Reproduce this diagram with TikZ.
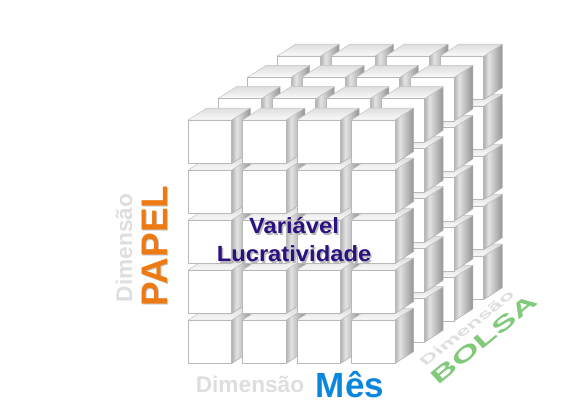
\documentclass[tikz,border=0pt]{standalone}
\usepackage{fontspec}
\setmainfont{Liberation Sans}
\definecolor{edgegrey}{gray}{0.72}
\definecolor{dimgrey}{gray}{0.87}
\definecolor{shadowgrey}{gray}{0.72}
\definecolor{papelorange}{HTML}{EE7A14}
\definecolor{mesblue}{HTML}{0A86DC}
\definecolor{bolsagreen}{HTML}{82C97C}
\definecolor{varindigo}{HTML}{2C1180}
\pgfdeclarehorizontalshading{sideshade}{100bp}{
  color(0bp)=(black!30); color(25bp)=(black!30); color(38bp)=(black!11);
  color(75bp)=(black!42); color(100bp)=(black!42)}
\tikzset{
  frontface/.style={draw=edgegrey,line width=.6pt,fill=white,line join=round},
  sideface/.style={draw=black!32,line width=.5pt,line join=round,shading=sideshade},
  topface/.style={draw=black!24,line width=.5pt,line join=round,bottom color=black!2,top color=black!13},
  dimtext/.style={text=dimgrey,font=\bfseries\fontsize{22.7}{24}\selectfont,inner sep=0pt},
  varshadow/.style={text=shadowgrey,font=\bfseries\fontsize{22}{28}\selectfont,inner sep=0pt,align=center},
  vartext/.style={text=varindigo,font=\bfseries\fontsize{22}{28}\selectfont,inner sep=0pt,align=center},
}
\newcommand{\cubeat}[2]{%
  \path[sideface] (#1+43.5,#2) -- ++(18.7,-12) -- ++(0,43.5) -- ++(-18.7,12) -- cycle;
  \path[topface] (#1,#2) -- ++(18.7,-12) -- ++(43.5,0) -- ++(-18.7,12) -- cycle;
  \path[frontface] (#1,#2) rectangle ++(43.5,43.5);
}
\begin{document}
\begin{tikzpicture}[x=1pt,y=-1pt]
\useasboundingbox (0,0) rectangle (582,407);
\foreach \layer in {3,2,1,0}{
  \foreach \rowidx in {4,3,2,1,0}{
    \foreach \col in {0,1,2,3}{
      \pgfmathsetmacro{\cx}{188.2+29.6*\layer+54.4*\col}
      \pgfmathsetmacro{\cy}{120-21.3*\layer+50*\rowidx}
      \cubeat{\cx}{\cy}
    }
  }
}
\node[varshadow] (vs) at (295.5,241.5) {\scalebox{1.08}[1]{Variável}\\\scalebox{1.08}[1]{Lucratividade}};
\node[vartext] (v) at (294,240) {\scalebox{1.08}[1]{Variável}\\\scalebox{1.08}[1]{Lucratividade}};
\node[dimtext] (dm) at (250,384) {Dimensão};
\node[text=mesblue,font=\bfseries\fontsize{35}{37}\selectfont,inner sep=0pt] (m) at (350,385) {Mês};
\node[dimtext,rotate=90] (dp) at (124,248) {Dimensão};
\node[text=black!22,font=\bfseries\fontsize{37}{39}\selectfont,inner sep=0pt,rotate=90] (ps) at (156,247) {PAPEL};
\node[text=papelorange,font=\bfseries\fontsize{37}{39}\selectfont,inner sep=0pt,rotate=90] (p) at (154.5,246) {PAPEL};
\begin{scope}[cm={1.883,1.465,-1.117,.838,(466.7,328)},transform shape]
\node[text=dimgrey,font=\bfseries\fontsize{10}{11}\selectfont,inner sep=0pt] (db) at (0,0) {Dimensão};
\end{scope}
\begin{scope}[cm={2.857,2.343,-1.40,1.54,(484,339.5)},transform shape]
\node[text=bolsagreen,font=\bfseries\fontsize{10}{11}\selectfont,inner sep=0pt] (b) at (0,0) {BOLSA};
\end{scope}
\end{tikzpicture}
\end{document}
